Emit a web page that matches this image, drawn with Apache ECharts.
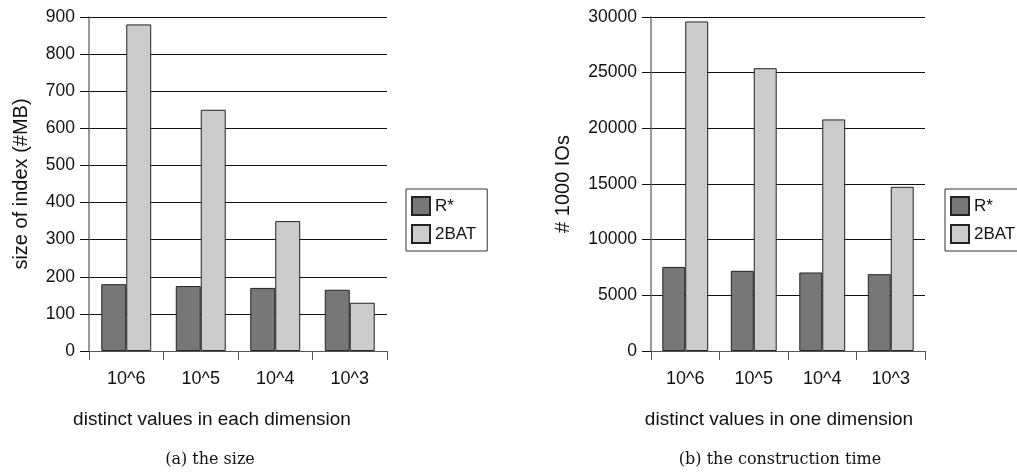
<!DOCTYPE html>
<html>
<head>
<meta charset="utf-8">
<script src="https://cdn.jsdelivr.net/npm/echarts@6/dist/echarts.min.js"></script>
<style>
  html, body { margin: 0; padding: 0; background: #fff; }
  #chart { width: 1017px; height: 475px; }
</style>
</head>
<body>
<div id="chart"></div>
<script>
// categories shared by both panels
const categories = ["10^6", "10^5", "10^4", "10^3"];

// (a) size of index in MB
const sizeRStar = [180, 175, 170, 165];
const size2BAT = [880, 650, 350, 130];

// (b) construction time, # 1000 IOs
const timeRStar = [7550, 7200, 7050, 6900];
const time2BAT = [29600, 25400, 20800, 14750];

const font = "Liberation Sans, Arial, sans-serif";
const darkBar = "#777777";
const lightBar = "#cccccc";

const makeX = (gridIndex) => ({
  type: "category",
  gridIndex,
  data: categories,
  axisLine: { lineStyle: { color: "#555", width: 1 } },
  axisTick: { show: true, length: 9, lineStyle: { color: "#555" } },
  axisLabel: { color: "#111", fontSize: 18, fontFamily: font, margin: 19 },
});

const makeY = (gridIndex, max, interval, name, nameGap) => ({
  type: "value",
  gridIndex,
  min: 0,
  max,
  interval,
  name,
  nameLocation: "middle",
  nameRotate: 90,
  nameGap,
  nameTextStyle: { color: "#111", fontSize: 20, fontFamily: font },
  axisLine: { show: true, lineStyle: { color: "#777", width: 1.5 } },
  axisTick: { show: true, length: 9, lineStyle: { color: "#111" } },
  axisLabel: {
    color: "#111", fontSize: 17.5, fontFamily: font, margin: 14,
    formatter: (v) => String(v),
  },
  splitLine: { lineStyle: { color: "#111", width: 1 } },
});

const barStyle = (color) => ({
  color,
  borderColor: "#222",
  borderWidth: 1,
});

const makeLegend = (left) => ({
  orient: "vertical",
  left,
  top: 189,
  icon: "rect",
  itemWidth: 18,
  itemHeight: 18,
  itemGap: 8,
  padding: [7, 11, 7, 5],
  borderColor: "#333",
  borderWidth: 1,
  textStyle: { color: "#111", fontSize: 17, fontFamily: font },
  data: ["R*", "2BAT"],
});

const nameStyle = { color: "#111", fontSize: 19, fontWeight: "normal", fontFamily: font };
const captionStyle = { color: "#111", fontSize: 16, fontWeight: "normal", fontFamily: "DejaVu Serif, serif" };

const option = {
  backgroundColor: "#fff",
  animation: false,
  title: [
    { text: "distinct values in each dimension", left: 207, top: 405, textAlign: "center", textStyle: nameStyle },
    { text: "distinct values in one dimension", left: 774, top: 405, textAlign: "center", textStyle: nameStyle },
    { text: "(a) the size", left: 205, top: 447, textAlign: "center", textStyle: captionStyle },
    { text: "(b) the construction time", left: 775, top: 447, textAlign: "center", textStyle: captionStyle },
  ],
  legend: [makeLegend(406), makeLegend(945)],
  grid: [
    { left: 89, top: 17, width: 298, height: 334 },
    { left: 651, top: 17, width: 274, height: 334 },
  ],
  xAxis: [makeX(0), makeX(1)],
  yAxis: [
    makeY(0, 900, 100, "size of index (#MB)", 58),
    makeY(1, 30000, 5000, "# 1000 IOs", 78),
  ],
  series: [
    {
      name: "R*", type: "bar", xAxisIndex: 0, yAxisIndex: 0,
      data: sizeRStar, barGap: "0%", barCategoryGap: "33%",
      itemStyle: barStyle(darkBar),
    },
    {
      name: "2BAT", type: "bar", xAxisIndex: 0, yAxisIndex: 0,
      data: size2BAT, barGap: "0%", barCategoryGap: "33%",
      itemStyle: barStyle(lightBar),
    },
    {
      name: "R*", type: "bar", xAxisIndex: 1, yAxisIndex: 1,
      data: timeRStar, barGap: "0%", barCategoryGap: "33%",
      itemStyle: barStyle(darkBar),
    },
    {
      name: "2BAT", type: "bar", xAxisIndex: 1, yAxisIndex: 1,
      data: time2BAT, barGap: "0%", barCategoryGap: "33%",
      itemStyle: barStyle(lightBar),
    },
  ],
};

const myChart = echarts.init(document.getElementById("chart"));
myChart.setOption(option);
</script>
</body>
</html>
